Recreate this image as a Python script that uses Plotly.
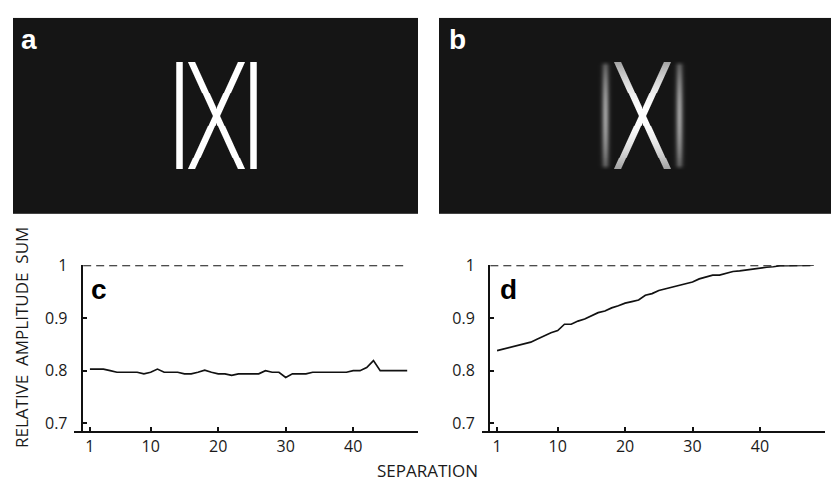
import numpy as np
import plotly.graph_objects as go

# ---------------- data ----------------
separation = list(range(1, 49))
amp_sum_c = [0.803, 0.803, 0.803, 0.800, 0.797, 0.797, 0.797, 0.797, 0.794, 0.797,
             0.803, 0.797, 0.797, 0.797, 0.794, 0.794, 0.797, 0.801, 0.797, 0.794,
             0.794, 0.791, 0.794, 0.794, 0.794, 0.794, 0.800, 0.797, 0.797, 0.787,
             0.794, 0.794, 0.794, 0.797, 0.797, 0.797, 0.797, 0.797, 0.797, 0.800,
             0.800, 0.806, 0.819, 0.800, 0.800, 0.800, 0.800, 0.800]
amp_sum_d = [0.838, 0.841, 0.844, 0.847, 0.850, 0.854, 0.860, 0.866, 0.872, 0.876,
             0.888, 0.888, 0.894, 0.898, 0.904, 0.910, 0.913, 0.919, 0.923, 0.928,
             0.931, 0.934, 0.943, 0.946, 0.952, 0.955, 0.959, 0.962, 0.965, 0.968,
             0.974, 0.978, 0.981, 0.981, 0.985, 0.988, 0.989, 0.991, 0.993, 0.995,
             0.996, 0.997, 0.999, 0.999, 0.999, 0.999, 0.999, 1.000]
reference_level = 1.0
y_tick_vals = [0.7, 0.8, 0.9, 1.0]
y_tick_text = ["0.7", "0.8", "0.9", "1"]
x_tick_vals = [1, 10, 20, 30, 40]
panel_labels = ["a", "b", "c", "d"]
y_title = "RELATIVE  AMPLITUDE  SUM"
x_title = "SEPARATION"

# ---------------- layout helpers ----------------
W, H = 831, 485
def fx(px):
    return px / W
def fy(py):
    return 1 - py / H

# ---------------- stimulus images ----------------
def stimulus(width_px, height_px, blurred):
    cx, cy = 203.5, 101.0
    half_h, bar_off, diag_half, lw = 55.0, 37.0, 25.0, 6.5
    X, Y = np.meshgrid(np.arange(width_px) + 0.5, np.arange(height_px) + 0.5)
    vert = np.clip(half_h + 0.5 - np.abs(Y - cy), 0, 1)
    slope = (2 * diag_half) / (2 * half_h)
    norm = np.sqrt(1 + slope ** 2)
    d1 = np.abs((X - cx) - slope * (Y - cy)) / norm
    d2 = np.abs((X - cx) + slope * (Y - cy)) / norm
    diag = np.maximum(np.clip(lw / 2 + 0.5 - d1, 0, 1), np.clip(lw / 2 + 0.5 - d2, 0, 1)) * vert
    bars_dx = np.minimum(np.abs(X - (cx - bar_off)), np.abs(X - (cx + bar_off)))
    if not blurred:
        bars = np.clip(lw / 2 + 0.5 - bars_dx, 0, 1) * vert
        return np.maximum(diag, bars).astype(np.float32)
    r = np.clip(np.abs(Y - cy) / half_h, 0, 1)
    diag_amp = 1.0 - 0.4 * r ** 2
    diag = diag * diag_amp
    bar_prof = np.exp(-(bars_dx ** 2) / (2 * 2.6 ** 2))
    bar_amp = 0.56 * (1.0 - 0.55 * r ** 2)
    vert_soft = np.clip((half_h + 1 - np.abs(Y - cy)) / 5.0, 0, 1)
    bars = bar_prof * bar_amp * vert_soft
    return np.clip(np.maximum(diag, bars), 0, 1).astype(np.float32)

img_a = stimulus(405, 202, False)
img_b = stimulus(392, 202, True)

fig = go.Figure()
gray_scale = [[0, "#151515"], [1, "#ffffff"]]
for img, xa, ya in [(img_a, "x", "y"), (img_b, "x2", "y2")]:
    h, w = img.shape
    fig.add_trace(go.Heatmap(z=img, x=np.arange(w) + 0.5, y=np.arange(h) + 0.5,
                             colorscale=gray_scale, zmin=0, zmax=1, showscale=False,
                             hoverinfo="skip", xaxis=xa, yaxis=ya))

line_col = "#111111"
for series, xa, ya in [(amp_sum_c, "x3", "y3"), (amp_sum_d, "x4", "y4")]:
    fig.add_trace(go.Scatter(x=[0, separation[-1]], y=[reference_level, reference_level],
                             mode="lines", line=dict(color=line_col, width=2, dash="8px,5px"),
                             xaxis=xa, yaxis=ya, showlegend=False, hoverinfo="skip"))
    fig.add_trace(go.Scatter(x=separation, y=series, mode="lines",
                             line=dict(color=line_col, width=1.7),
                             xaxis=xa, yaxis=ya, showlegend=False))

hidden = dict(visible=False, showgrid=False, zeroline=False)
tick_font = dict(family="Open Sans", size=16, color="#1a1a1a")
common_x = dict(showline=True, linecolor=line_col, linewidth=2, ticks="inside", ticklen=4,
                tickwidth=1.5, tickcolor=line_col, tickvals=x_tick_vals, showgrid=False,
                zeroline=False, tickfont=tick_font)
common_y = dict(showline=True, linecolor=line_col, linewidth=2, ticks="inside", ticklen=4,
                tickwidth=1.5, tickcolor=line_col, tickvals=y_tick_vals, ticktext=y_tick_text,
                showgrid=False, zeroline=False, tickfont=tick_font, range=[0.686, 1.0],
                ticklabelstandoff=10)

ybot, ytop = fy(432.3), fy(261.7)
fig.update_layout(
    width=W, height=H, margin=dict(l=0, r=0, t=0, b=0),
    paper_bgcolor="white", plot_bgcolor="rgba(0,0,0,0)", showlegend=False,
    xaxis=dict(domain=[fx(13), fx(418)], range=[0, 405], anchor="y", **hidden),
    yaxis=dict(domain=[fy(209), fy(7)], range=[202, 0], anchor="x", **hidden),
    xaxis2=dict(domain=[fx(439), 1.0], range=[0, 392], anchor="y2", **hidden),
    yaxis2=dict(domain=[fy(209), fy(7)], range=[202, 0], anchor="x2", **hidden),
    xaxis3=dict(domain=[fx(74), fx(418)], range=[-1.36, 49.6], anchor="y3", **common_x),
    yaxis3=dict(domain=[ybot, ytop], anchor="free", position=fx(81.7), **common_y),
    xaxis4=dict(domain=[fx(481.7), fx(825)], range=[-1.28, 49.66], anchor="y4", **common_x),
    yaxis4=dict(domain=[ybot, ytop], anchor="free", position=fx(489), **common_y),
)

label_font = dict(family="Liberation Sans", size=28)
ann = []
for txt, px, py, col in [(panel_labels[0], 19, 29, "white"), (panel_labels[1], 447, 29, "white"),
                          (panel_labels[2], 89, 287, "black"), (panel_labels[3], 498, 287, "black")]:
    ann.append(dict(text="<b>%s</b>" % txt, x=fx(px), y=fy(py), xref="paper", yref="paper",
                    xanchor="left", yanchor="middle", showarrow=False,
                    font=dict(color=col, **label_font)))
ann.append(dict(text=y_title, x=fx(21.7), y=fy(336), xref="paper", yref="paper",
                textangle=-90, xanchor="center", yanchor="middle", showarrow=False,
                font=dict(family="Open Sans", size=17, color="#1a1a1a")))
ann.append(dict(text=x_title, x=fx(427), y=fy(473), xref="paper", yref="paper",
                xanchor="center", yanchor="middle", showarrow=False,
                font=dict(family="Open Sans", size=17, color="#1a1a1a")))
fig.update_layout(annotations=ann)

fig.write_html("out.html", config={"displayModeBar": False},
               post_script="document.body.style.margin='0';document.body.style.overflow='hidden';")
